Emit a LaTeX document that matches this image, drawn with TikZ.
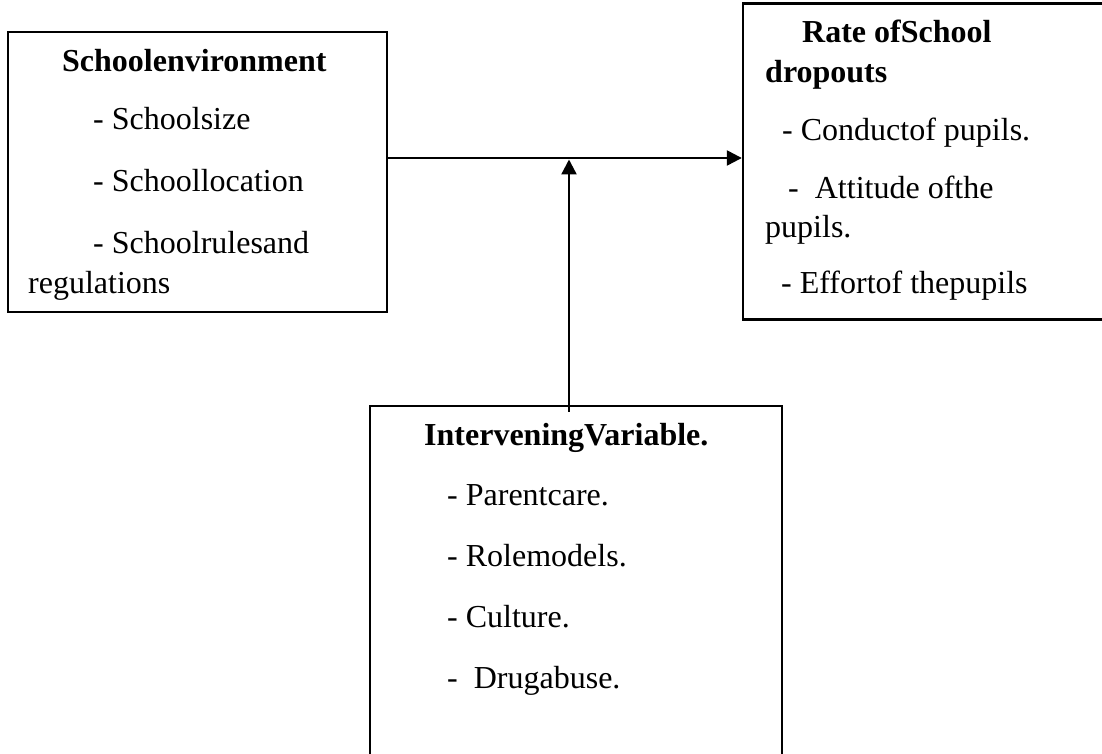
\documentclass[tikz,border=0pt]{standalone}
\usepackage{fontspec}
\setmainfont{Liberation Serif}
\usepackage{tikz}
\usetikzlibrary{arrows.meta}

\tikzset{
  box/.style={draw=black, line width=2.4pt, inner sep=0pt},
  txt/.style={anchor=base west, inner sep=0pt, font=\fontsize{32}{40}\selectfont},
  head/.style={txt, font=\fontsize{32}{40}\selectfont\bfseries},
  link/.style={line width=2.4pt, -{Triangle[length=15pt,width=15pt]}}
}

\begin{document}
\begin{tikzpicture}[x=1pt, y=-1pt]
  % Page frame
  \useasboundingbox (0,0) rectangle (1102,754);

  % The three boxes (two run off the page edge)
  \node[box, minimum width=379pt, minimum height=280pt] (env) at (197.5,172) {};
  \node[box, minimum width=377pt, minimum height=316pt] (rate) at (931.5,161.5) {};
  \node[box, minimum width=412pt, minimum height=374pt] (inter) at (576,593) {};

  % Left box text
  \node[head] (envtitle) at (62,72) {Schoolenvironment};
  \node[txt] (envsize) at (93,130) {- Schoolsize};
  \node[txt] (envloc) at (93,192) {- Schoollocation};
  \node[txt] (envrules) at (93,253) {- Schoolrulesand};
  \node[txt] (envreg) at (28,293) {regulations};

  % Right box text
  \node[head] (ratetitle) at (802,43) {Rate ofSchool};
  \node[head] (ratedrop) at (765,83) {dropouts};
  \node[txt] (ratecond) at (782,141) {- Conductof pupils.};
  \node[txt] (rateatt) at (788,198) {-\ \ Attitude ofthe};
  \node[txt] (ratepup) at (765,237) {pupils.};
  \node[txt] (rateeff) at (781,293) {- Effortof thepupils};

  % Bottom box text
  \node[head] (intertitle) at (424,445) {InterveningVariable.};
  \node[txt] (intercare) at (447,505) {- Parentcare.};
  \node[txt] (interrole) at (447,566) {- Rolemodels.};
  \node[txt] (intercult) at (447,627) {- Culture.};
  \node[txt] (interdrug) at (447,688) {-\ \ Drugabuse.};

  % Arrows
  \coordinate (join) at (569,158);
  \draw[link] (env.east |- join) -- (rate.west |- join);
  \draw[link] ([yshift=-7pt]inter.north -| join) -- ([yshift=-1.5pt]join);
\end{tikzpicture}
\end{document}
